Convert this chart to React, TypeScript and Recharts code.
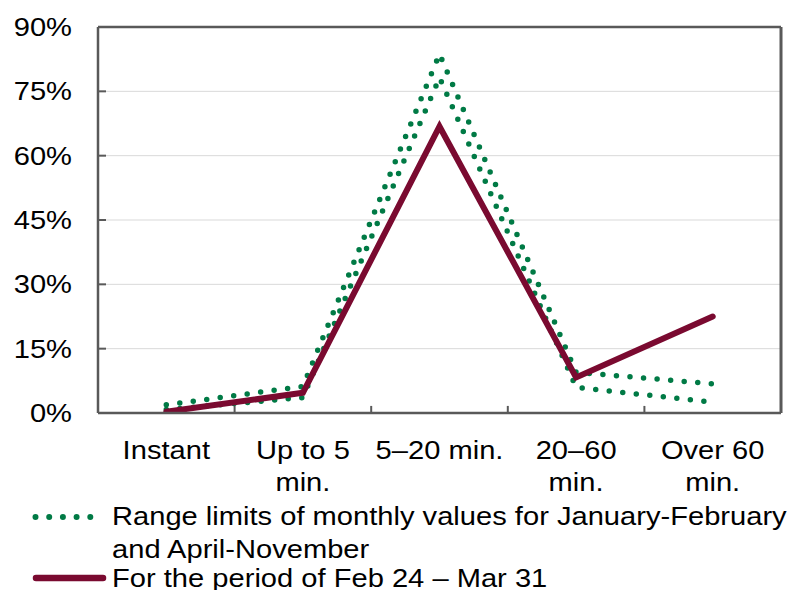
import React from "react";
import {
  ComposedChart,
  Line,
  XAxis,
  YAxis,
  CartesianGrid,
  ReferenceLine,
  Legend,
} from "recharts";

const categories = ["Instant", "Up to 5 min.", "5–20 min.", "20–60 min.", "Over 60 min."];
const categoryTickLines = [["Instant"], ["Up to 5", "min."], ["5–20 min."], ["20–60", "min."], ["Over 60", "min."]];
const upperLimit = [1.9, 6.2, 83.7, 9.5, 6.8];
const lowerLimit = [0.8, 3.6, 78.2, 6.0, 2.5];
const periodValues = [0.3, 4.7, 66.8, 8.3, 22.5];
const yTicks = [0, 15, 30, 45, 60, 75, 90];
const legendLabels = [
  ["Range limits of monthly values for January-February", "and April-November"],
  ["For the period of Feb 24 – Mar 31"],
];

const data = categories.map((cat, i) => ({
  cat,
  upper: upperLimit[i],
  lower: lowerLimit[i],
  period: periodValues[i],
}));

const FONT = "'Liberation Sans', Arial, Helvetica, sans-serif";
const FS = 26;
const SX = 1.12;
const GREEN = "#007a45";
const MAROON = "#7a0a30";
const AXIS = "#595959";
const TICK_LEN = 1.65; // inward tick length in axis units (~7px)

const XTick = (props: any) => {
  const { x, y, payload } = props;
  const lines = categoryTickLines[payload.index] || [String(payload.value)];
  return (
    <g transform={`translate(${x},${y}) scale(${SX},1)`}>
      <text x={0} y={46} textAnchor="middle" fill="#000" fontSize={FS} fontFamily={FONT}>
        {lines.map((l, i) => (
          <tspan key={i} x={0} dy={i === 0 ? 0 : 32}>
            {l}
          </tspan>
        ))}
      </text>
    </g>
  );
};

const YTick = (props: any) => {
  const { y, payload } = props;
  return (
    <g transform={`translate(72,${y}) scale(${SX},1)`}>
      <text x={0} y={9} textAnchor="end" fill="#000" fontSize={FS} fontFamily={FONT}>
        {`${payload.value}%`}
      </text>
    </g>
  );
};

const LegendContent = () => (
  <svg width={792} height={92} style={{ display: "block" }}>
    <line x1={35.5} y1={19} x2={92} y2={19} stroke={GREEN} strokeWidth={6} strokeDasharray="0 13.7" strokeLinecap="round" />
    <g transform={`translate(112,0) scale(${SX},1)`}>
      <text x={0} y={27} fontSize={FS} fontFamily={FONT} fill="#000">
        {legendLabels[0].map((l, i) => (
          <tspan key={i} x={0} dy={i === 0 ? 0 : 33}>
            {l}
          </tspan>
        ))}
      </text>
    </g>
    <line x1={36} y1={80} x2={103} y2={80} stroke={MAROON} strokeWidth={6.5} strokeLinecap="round" />
    <g transform={`translate(112,0) scale(${SX},1)`}>
      <text x={0} y={89} fontSize={FS} fontFamily={FONT} fill="#000">
        {legendLabels[1][0]}
      </text>
    </g>
  </svg>
);

export default function App() {
  return (
    <div style={{ width: 792, height: 590, position: "relative", background: "#fff" }}>
      <style>{"body{margin:0;}"}</style>
      <ComposedChart
        width={792}
        height={590}
        data={data}
        margin={{ top: 27, right: 11, left: 0, bottom: 97 }}
      >
        <CartesianGrid horizontal vertical={false} stroke="#d9d9d9" strokeWidth={1} />
        <XAxis
          dataKey="cat"
          type="category"
          scale="band"
          interval={0}
          tickLine={false}
          tickSize={0}
          tickMargin={0}
          axisLine={{ stroke: AXIS, strokeWidth: 2.5 }}
          tick={<XTick />}
          height={80}
        />
        <YAxis
          domain={[0, 90]}
          ticks={yTicks}
          width={98}
          tickSize={-8}
          tickLine={{ stroke: AXIS, strokeWidth: 2 }}
          axisLine={{ stroke: AXIS, strokeWidth: 2.5 }}
          tick={<YTick />}
          allowDataOverflow
        />
        <ReferenceLine y={90} stroke={AXIS} strokeWidth={2.5} ifOverflow="visible" />
        <ReferenceLine x={categories[4]} position="end" stroke={AXIS} strokeWidth={3} ifOverflow="visible" />
        {categories.slice(1).map((c) => (
          <ReferenceLine
            key={c}
            segment={[
              { x: c, y: 0 },
              { x: c, y: TICK_LEN },
            ]}
            position="start"
            stroke={AXIS}
            strokeWidth={2}
            ifOverflow="visible"
          />
        ))}
        <Line
          type="linear"
          dataKey="upper"
          stroke={GREEN}
          strokeWidth={5.5}
          strokeDasharray="0 13.6"
          strokeLinecap="round"
          dot={false}
          activeDot={false}
          isAnimationActive={false}
        />
        <Line
          type="linear"
          dataKey="lower"
          stroke={GREEN}
          strokeWidth={5.5}
          strokeDasharray="0 13.6"
          strokeLinecap="round"
          dot={false}
          activeDot={false}
          isAnimationActive={false}
        />
        <Line
          type="linear"
          dataKey="period"
          stroke={MAROON}
          strokeWidth={6}
          strokeLinecap="round"
          strokeLinejoin="miter"
          dot={false}
          activeDot={false}
          isAnimationActive={false}
        />
        <Legend
          layout="vertical"
          align="center"
          verticalAlign="middle"
          content={<LegendContent />}
          wrapperStyle={{ top: 498, left: 0, width: 792, height: 92 }}
        />
      </ComposedChart>
    </div>
  );
}
